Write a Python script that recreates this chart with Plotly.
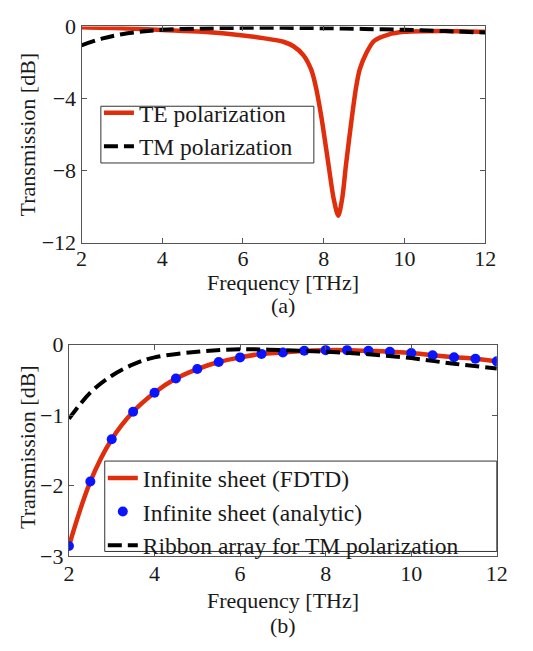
import plotly.graph_objects as go

# ---------------- data: panel (a) ----------------
te_freq = [2, 3, 4, 5, 6, 6.5, 7, 7.25, 7.5, 7.69, 7.8, 7.94, 8.12, 8.25, 8.36,
           8.46, 8.55, 8.7, 8.8, 8.89, 9.05, 9.25, 9.6, 10.0, 11, 12]
te_db = [-0.05, -0.1, -0.2, -0.3, -0.5, -0.65, -0.85, -1.1, -1.6, -2.4, -3.3, -5.0,
         -7.7, -9.6, -10.5, -9.5, -7.7, -5.0, -3.4, -2.4, -1.5, -0.8, -0.45, -0.3,
         -0.25, -0.3]

tm_freq = [2, 2.5, 3, 3.5, 4, 5, 6, 7, 8, 9, 10, 11, 12]
tm_db = [-1.05, -0.68, -0.43, -0.28, -0.19, -0.11, -0.08, -0.08, -0.1, -0.14, -0.19, -0.26, -0.34]

# ---------------- data: panel (b) ----------------
sheet_freq = [2, 2.5, 3, 3.5, 4, 4.5, 5, 5.5, 6, 6.5, 7, 7.5, 8, 8.5, 9, 9.5,
              10, 10.5, 11, 11.5, 12]
sheet_fdtd_db = [-2.855, -1.94, -1.34, -0.95, -0.68, -0.48, -0.345, -0.245, -0.18,
                 -0.13, -0.11, -0.086, -0.077, -0.077, -0.086, -0.1, -0.118, -0.15,
                 -0.177, -0.2, -0.236]
sheet_analytic_db = [-2.855, -1.94, -1.34, -0.95, -0.68, -0.48, -0.345, -0.245, -0.18,
                     -0.13, -0.11, -0.086, -0.077, -0.077, -0.086, -0.1, -0.118, -0.15,
                     -0.177, -0.2, -0.236]

ribbon_freq = [2, 2.5, 3, 3.5, 4, 5, 6, 7, 8, 9, 10, 11, 12]
ribbon_db = [-1.05, -0.68, -0.44, -0.28, -0.18, -0.1, -0.064, -0.077, -0.1, -0.136,
             -0.19, -0.27, -0.336]

x_ticks = [2, 4, 6, 8, 10, 12]
ya_ticks = [0, -4, -8, -12]
yb_ticks = [0, -1, -2, -3]

RED = "#e02d0c"
BLUE = "#0a14ff"
BLACK = "#000000"
FONT = "Liberation Serif"
TXT = "#1a1a1a"
W, H = 533, 651

fig = go.Figure()

# panel (a)
fig.add_trace(go.Scatter(x=te_freq, y=te_db, mode="lines", name="TE polarization",
                         line=dict(color=RED, width=4.5, shape="spline", smoothing=0.8),
                         xaxis="x", yaxis="y", legend="legend"))
fig.add_trace(go.Scatter(x=tm_freq, y=tm_db, mode="lines", name="TM polarization",
                         line=dict(color=BLACK, width=4, dash="14px,6px", shape="spline"),
                         xaxis="x", yaxis="y", legend="legend"))

# panel (b)
fig.add_trace(go.Scatter(x=sheet_freq, y=sheet_fdtd_db, mode="lines",
                         name="Infinite sheet (FDTD)",
                         line=dict(color=RED, width=4.5, shape="spline"),
                         xaxis="x2", yaxis="y2", legend="legend2"))
fig.add_trace(go.Scatter(x=sheet_freq, y=sheet_analytic_db, mode="markers",
                         name="Infinite sheet (analytic)",
                         marker=dict(color=BLUE, size=10),
                         xaxis="x2", yaxis="y2", legend="legend2"))
fig.add_trace(go.Scatter(x=ribbon_freq, y=ribbon_db, mode="lines",
                         name="Ribbon array for TM polarization",
                         line=dict(color=BLACK, width=4, dash="14px,6px", shape="spline"),
                         xaxis="x2", yaxis="y2", legend="legend2"))

# domains (pixel-derived)
xa = [78 / W, 495 / W]
ya = [(H - 240) / H, (H - 15) / H]
xb = [65 / W, 507 / W]
yb = [(H - 566) / H, (H - 346) / H]

axis_common = dict(showline=True, linecolor="#555555", linewidth=1, mirror="ticks",
                   ticks="inside", ticklen=5, tickcolor="#555555", showgrid=False,
                   zeroline=False, tickfont=dict(family=FONT, size=22, color=TXT))

fig.update_layout(
    width=W, height=H,
    margin=dict(l=0, r=0, t=0, b=0),
    paper_bgcolor="white", plot_bgcolor="white",
    font=dict(family=FONT, color=TXT),
    xaxis=dict(domain=xa, range=[2, 12], tickvals=x_ticks, anchor="y",
               ticklabelstandoff=-4, **axis_common),
    yaxis=dict(domain=ya, range=[-12, 0], tickvals=ya_ticks, anchor="x", **axis_common),
    xaxis2=dict(domain=xb, range=[2, 12], tickvals=x_ticks, anchor="y2",
                ticklabelstandoff=-3, **axis_common),
    yaxis2=dict(domain=yb, range=[-3, 0], tickvals=yb_ticks, anchor="x2", **axis_common),
    legend=dict(x=96 / W, y=(H - 82) / H, xanchor="left", yanchor="top",
                bgcolor="rgba(0,0,0,0)", borderwidth=0,
                font=dict(family=FONT, size=23.5, color=TXT), tracegroupgap=0,
                itemwidth=30),
    legend2=dict(x=100 / W, y=(H - 462) / H, xanchor="left", yanchor="top",
                 bgcolor="rgba(0,0,0,0)", borderwidth=0,
                 font=dict(family=FONT, size=23.5, color=TXT), tracegroupgap=0,
                 itemwidth=30),
    showlegend=True,
)

# legend frames
for (x0, y0, x1, y1) in [(98, 98, 318, 157), (102, 467, 507, 561)]:
    fig.add_shape(type="rect", xref="paper", yref="paper",
                  x0=x0 / W, x1=x1 / W, y0=(H - y1) / H, y1=(H - y0) / H,
                  line=dict(color="#333333", width=1), fillcolor="white", layer="above")

def ann(text, x, y, angle=0, size=22):
    fig.add_annotation(text=text, x=x / W, y=(H - y) / H, xref="paper", yref="paper",
                       showarrow=False, textangle=angle,
                       font=dict(family=FONT, size=size, color=TXT),
                       xanchor="center", yanchor="middle")

ann("Frequency [THz]", (78 + 495) / 2, 281)
ann("(a)", (78 + 495) / 2, 305)
ann("Transmission [dB]", 22, 127, angle=-90)
ann("Frequency [THz]", (65 + 507) / 2, 612)
ann("(b)", (65 + 507) / 2, 638)
ann("Transmission [dB]", 22, 452, angle=-90)

fig.write_html("out.html")
